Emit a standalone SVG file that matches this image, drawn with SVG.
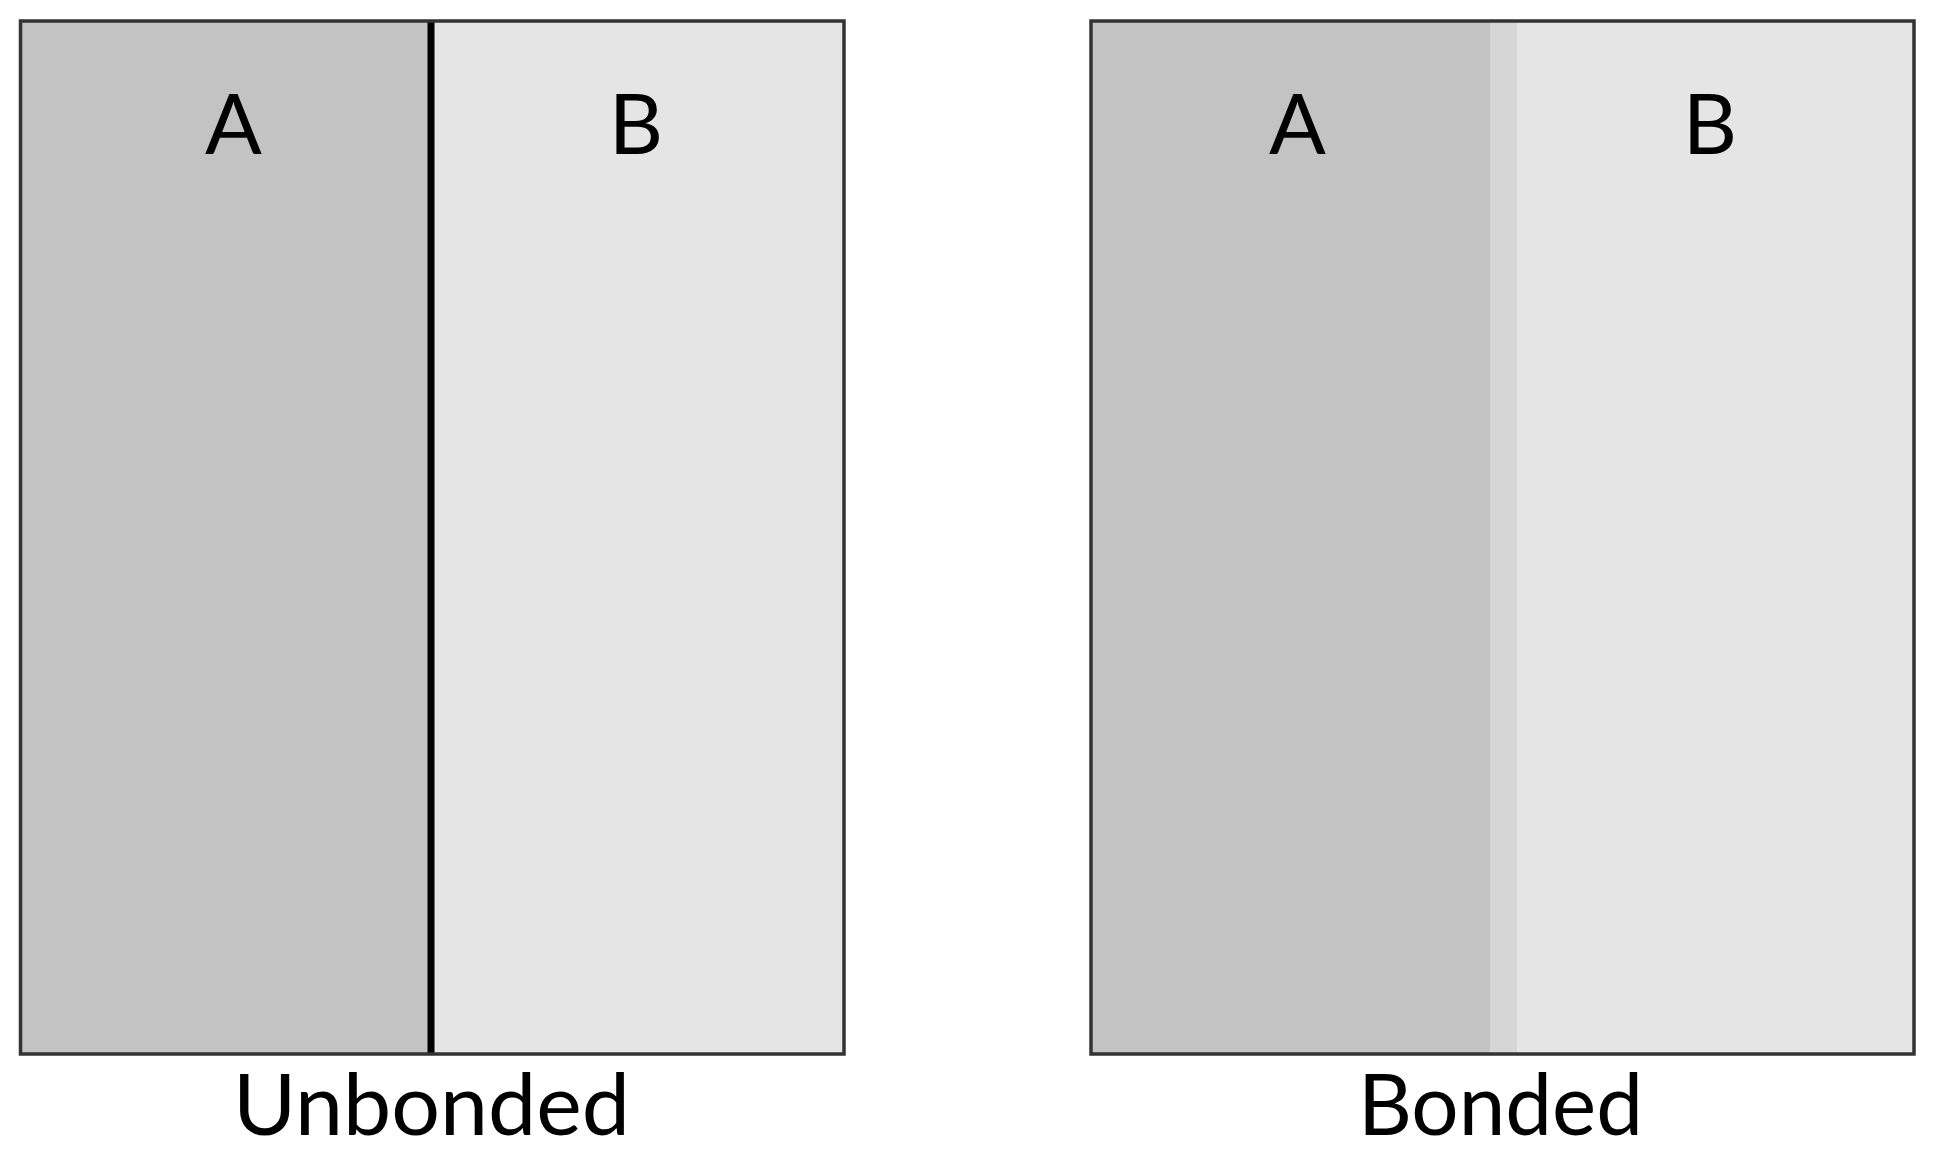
<svg xmlns="http://www.w3.org/2000/svg" width="1937" height="1157" viewBox="0 0 1937 1157">
<style>
.frame{fill:none;stroke:#333;stroke-width:3.5}
.lbl{font-family:Lato,"Liberation Sans",sans-serif;font-size:84px;fill:#000;text-anchor:middle}
.cap{font-family:Lato,"Liberation Sans",sans-serif;font-size:86px;fill:#000;text-anchor:middle}
</style>
<rect width="1937" height="1157" fill="#fff"/>
<g id="unbonded">
<rect x="20.5" y="21" width="411" height="1033" fill="#c3c3c3"/>
<rect x="431" y="21" width="413" height="1033" fill="#e5e5e5"/>
<rect x="427.5" y="21" width="7" height="1033" fill="#000"/>
<rect class="frame" x="20.5" y="21" width="823.5" height="1033"/>
<text class="lbl" x="233.5" y="154">A</text>
<text class="lbl" x="636" y="154">B</text>
<text class="cap" x="431.5" y="1135" textLength="397" lengthAdjust="spacingAndGlyphs">Unbonded</text>
</g>
<g id="bonded">
<rect x="1091" y="21" width="399" height="1033" fill="#c3c3c3"/>
<rect x="1490" y="21" width="27" height="1033" fill="#d5d5d5"/>
<rect x="1517" y="21" width="397" height="1033" fill="#e5e5e5"/>
<rect class="frame" x="1091" y="21" width="823" height="1033"/>
<text class="lbl" x="1297.5" y="154">A</text>
<text class="lbl" x="1710" y="154">B</text>
<text class="cap" x="1500.5" y="1135" textLength="285" lengthAdjust="spacingAndGlyphs">Bonded</text>
</g>
<g id="connectors"/>
</svg>
